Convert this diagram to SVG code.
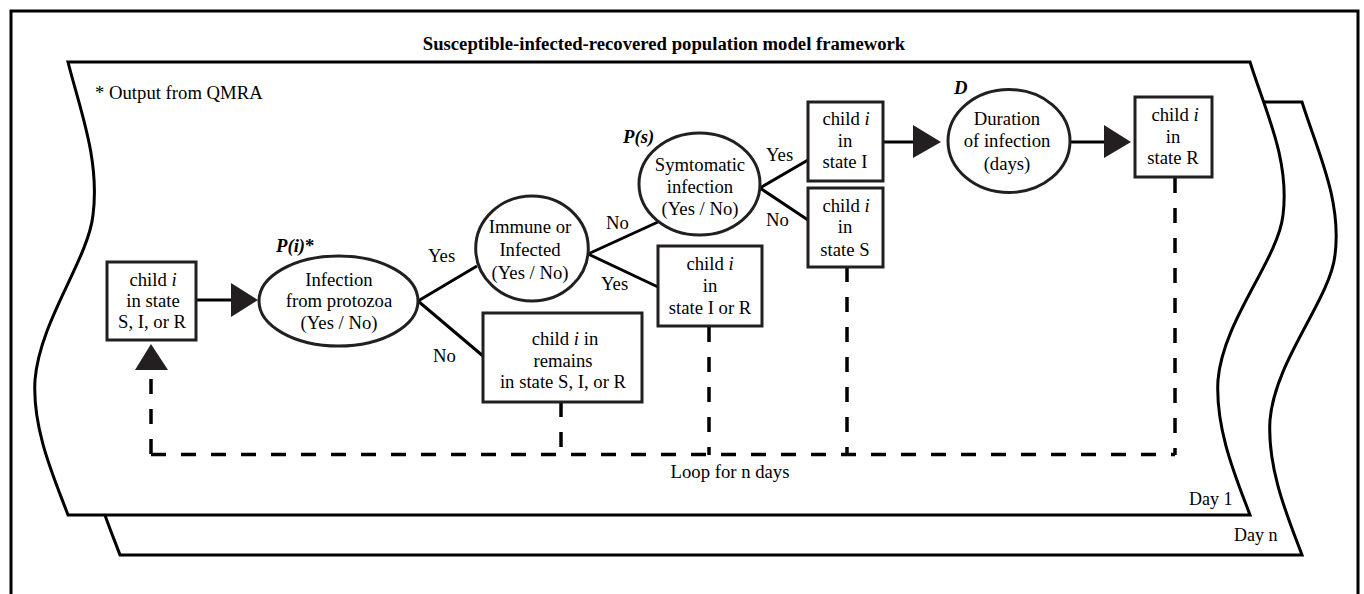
<svg xmlns="http://www.w3.org/2000/svg" width="1364" height="594" viewBox="0 0 1364 594">
<style>
text{font-family:"Liberation Serif","Times New Roman",serif;font-size:18.7px;fill:#000}
.c{text-anchor:middle}
.t{font-weight:bold}
.p{font-weight:bold;font-style:italic}
.i{font-style:italic}
.node{fill:#fff;stroke:#231f20;stroke-width:3}
.ln{fill:none;stroke:#000;stroke-width:3}
.dash{fill:none;stroke:#000;stroke-width:3.5;stroke-dasharray:15 15}
.head{fill:#231f20;stroke:none}
.page{fill:#fff;stroke:#000;stroke-width:3;stroke-linejoin:miter}
</style>
<defs>
<path id="pg" d="M68,62 H1250 C1265,110 1290,160 1283,215 C1278,260 1223,320 1218,380 C1215,430 1237,480 1250,515 H68 C55,480 32,430 35,380 C40,320 88,260 93,215 C100,160 80,110 68,62 Z"/>
</defs>
<rect width="1364" height="594" fill="#fff"/>
<g id="frame">
<path class="ln" d="M11,600 V11 H1358 V600"/>
<text class="c t" x="664" y="50">Susceptible-infected-recovered population model framework</text>
</g>
<g id="day-n">
<use href="#pg" class="page" transform="translate(52,40)"/>
<text x="1234" y="541" style="font-size:18px">Day n</text>
</g>
<g id="day-1">
<use href="#pg" class="page"/>
<text x="1189" y="505" style="font-size:18px">Day 1</text>
<text x="95" y="99">* Output from QMRA</text>
</g>
<g id="connectors">
<path class="ln" d="M196,300 H234"/>
<polygon class="head" points="231,283 231,317 258,300"/>
<path class="ln" d="M418,301 L477,266"/>
<path class="ln" d="M418,301 L483,356"/>
<path class="ln" d="M588,254 L658,222"/>
<path class="ln" d="M588,254 L658,287"/>
<path class="ln" d="M760,188 L808,160"/>
<path class="ln" d="M760,188 L808,220"/>
<path class="ln" d="M883,142 H915"/>
<polygon class="head" points="913,125 913,158 941,142"/>
<path class="ln" d="M1070,142 H1106"/>
<polygon class="head" points="1104,125 1104,158 1131,142"/>
<path class="dash" d="M151,454 V370"/>
<path class="dash" d="M151,454.5 H1175"/>
<path class="dash" d="M561,402 V455"/>
<path class="dash" d="M709,327 V455"/>
<path class="dash" d="M847,267 V455"/>
<path class="dash" d="M1175,178 V455"/>
<polygon class="head" points="135,370 168,370 151,344"/>
<text x="428" y="262">Yes</text>
<text x="433" y="362">No</text>
<text x="606" y="229">No</text>
<text x="601" y="290">Yes</text>
<text x="766" y="161">Yes</text>
<text x="766" y="226">No</text>
<text class="c" x="730" y="478">Loop for n days</text>
</g>
<g id="n-start">
<rect class="node" x="107" y="262" width="89" height="78"/>
<text class="c" x="153" y="286">child <tspan class="i">i</tspan></text>
<text class="c" x="153" y="307">in state</text>
<text class="c" x="152" y="328">S, I, or R</text>
</g>
<g id="n-infection">
<ellipse class="node" cx="338.5" cy="301" rx="79.5" ry="45"/>
<text class="p" x="276" y="252">P(i)<tspan style="font-style:normal">*</tspan></text>
<text class="c" x="339" y="286">Infection</text>
<text class="c" x="339" y="307">from protozoa</text>
<text class="c" x="339" y="329">(Yes / No)</text>
</g>
<g id="n-immune">
<ellipse class="node" cx="532" cy="248.5" rx="56.3" ry="52.5"/>
<text class="c" x="530" y="233">Immune or</text>
<text class="c" x="530" y="256">Infected</text>
<text class="c" x="530" y="279">(Yes / No)</text>
</g>
<g id="n-remains">
<rect class="node" x="483" y="313" width="159" height="89"/>
<text class="c" x="565" y="345">child <tspan class="i">i</tspan> in</text>
<text class="c" x="563" y="367">remains</text>
<text class="c" x="563" y="388">in state S, I, or R</text>
</g>
<g id="n-symptomatic">
<ellipse class="node" cx="699.5" cy="184" rx="60.5" ry="51"/>
<text class="p" x="623" y="143">P(s)</text>
<text class="c" x="700" y="171">Symtomatic</text>
<text class="c" x="700" y="193">infection</text>
<text class="c" x="700" y="215">(Yes / No)</text>
</g>
<g id="n-state-ir">
<rect class="node" x="658" y="246" width="104" height="80"/>
<text class="c" x="710" y="270">child <tspan class="i">i</tspan></text>
<text class="c" x="710" y="292">in</text>
<text class="c" x="710" y="314">state I or R</text>
</g>
<g id="n-state-i">
<rect class="node" x="808" y="102" width="75" height="79"/>
<text class="c" x="846" y="125">child <tspan class="i">i</tspan></text>
<text class="c" x="845" y="147">in</text>
<text class="c" x="845" y="168">state I</text>
</g>
<g id="n-state-s">
<rect class="node" x="808" y="188" width="75" height="79"/>
<text class="c" x="846" y="212">child <tspan class="i">i</tspan></text>
<text class="c" x="845" y="233">in</text>
<text class="c" x="845" y="256">state S</text>
</g>
<g id="n-duration">
<ellipse class="node" cx="1009" cy="141" rx="61" ry="51.5"/>
<text class="p" x="954" y="94">D</text>
<text class="c" x="1007" y="125">Duration</text>
<text class="c" x="1007" y="147">of infection</text>
<text class="c" x="1007" y="170">(days)</text>
</g>
<g id="n-state-r">
<rect class="node" x="1135" y="97" width="77" height="80"/>
<text class="c" x="1175" y="121">child <tspan class="i">i</tspan></text>
<text class="c" x="1173" y="143">in</text>
<text class="c" x="1173" y="164">state R</text>
</g>
</svg>
